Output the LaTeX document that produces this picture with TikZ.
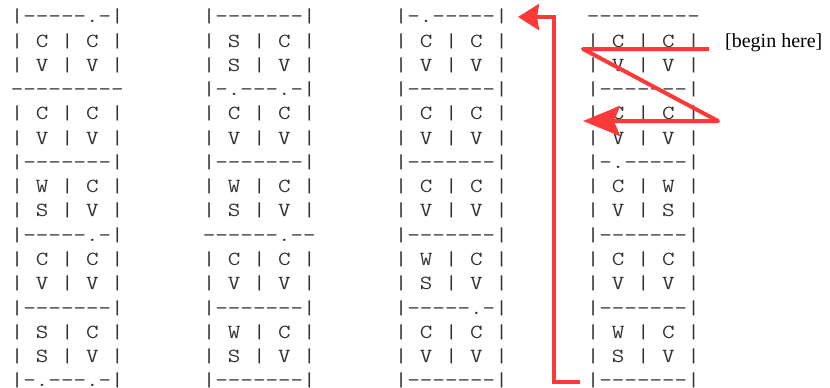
\documentclass[tikz,border=0pt]{standalone}
\usepackage{fontspec}
\setmainfont{Liberation Serif}
\usetikzlibrary{arrows.meta}
\definecolor{arrowred}{RGB}{255,56,56}
\definecolor{asciigray}{RGB}{51,51,51}
\newcommand{\ascline}[1]{\scalebox{1.219}[1]{#1}}
\begin{document}
\begin{tikzpicture}[x=1pt,y=-1pt,
  asc/.style={font=\ttfamily\fontsize{20}{24}\selectfont, text=asciigray, anchor=base west, inner sep=0pt},
  lbl/.style={font=\fontsize{20}{24}\selectfont, anchor=base west, inner sep=0pt},
  redline/.style={draw=arrowred, line width=4pt, line join=round}]
\useasboundingbox (0,0) rectangle (830,388);
% column 1
\foreach \txt [count=\i] in {|-----.-|,| C | C |,| V | V |,---------,| C | C |,| V | V |,|-------|,| W | C |,| S | V |,|-----.-|,| C | C |,| V | V |,|-------|,| S | C |,| S | V |,|-.---.-|}
  \node[asc] (a\i) at (10.6,{22.8+24.27*(\i-1)}) {\ascline{\txt}};
% column 2
\foreach \txt [count=\i] in {|-------|,| S | C |,| S | V |,|-.---.-|,| C | C |,| V | V |,|-------|,| W | C |,| S | V |,------.--,| C | C |,| V | V |,|-------|,| W | C |,| S | V |,|-------|}
  \node[asc] (b\i) at (202.6,{22.8+24.27*(\i-1)}) {\ascline{\txt}};
% column 3
\foreach \txt [count=\i] in {|-.-----|,| C | C |,| V | V |,|-------|,| C | C |,| V | V |,|-------|,| C | C |,| V | V |,|-------|,| W | C |,| S | V |,|-----.-|,| C | C |,| V | V |,|-------|}
  \node[asc] (c\i) at (394.6,{22.8+24.27*(\i-1)}) {\ascline{\txt}};
% column 4
\foreach \txt [count=\i] in {---------,| C | C |,| V | V |,|-------|,| C | C |,| V | V |,|-.-----|,| C | W |,| V | S |,|-------|,| C | C |,| V | V |,|-------|,| W | C |,| S | V |,|-------|}
  \node[asc] (d\i) at (586.6,{22.8+24.27*(\i-1)}) {\ascline{\txt}};
% label
\node[lbl] (begin) at (725,47) {[begin here]};
% zigzag arrow
\coordinate (p1) at (709,49);
\coordinate (p2) at (583,49);
\coordinate (p3) at (718,121);
\coordinate (p4) at (583,121);
\draw[redline, -{Stealth[length=37pt,width=30pt,inset=6pt]}] (p1) -- (p2) -- (p3) -- (p4);
% long return arrow
\coordinate (q1) at (580,382);
\coordinate (q2) at (554,382);
\coordinate (q3) at (554,17);
\coordinate (q4) at (518,17);
\draw[redline, line join=miter, -{Stealth[length=21pt,width=26pt,inset=2pt]}] (q1) -- (q2) -- (q3) -- (q4);
\end{tikzpicture}
\end{document}
